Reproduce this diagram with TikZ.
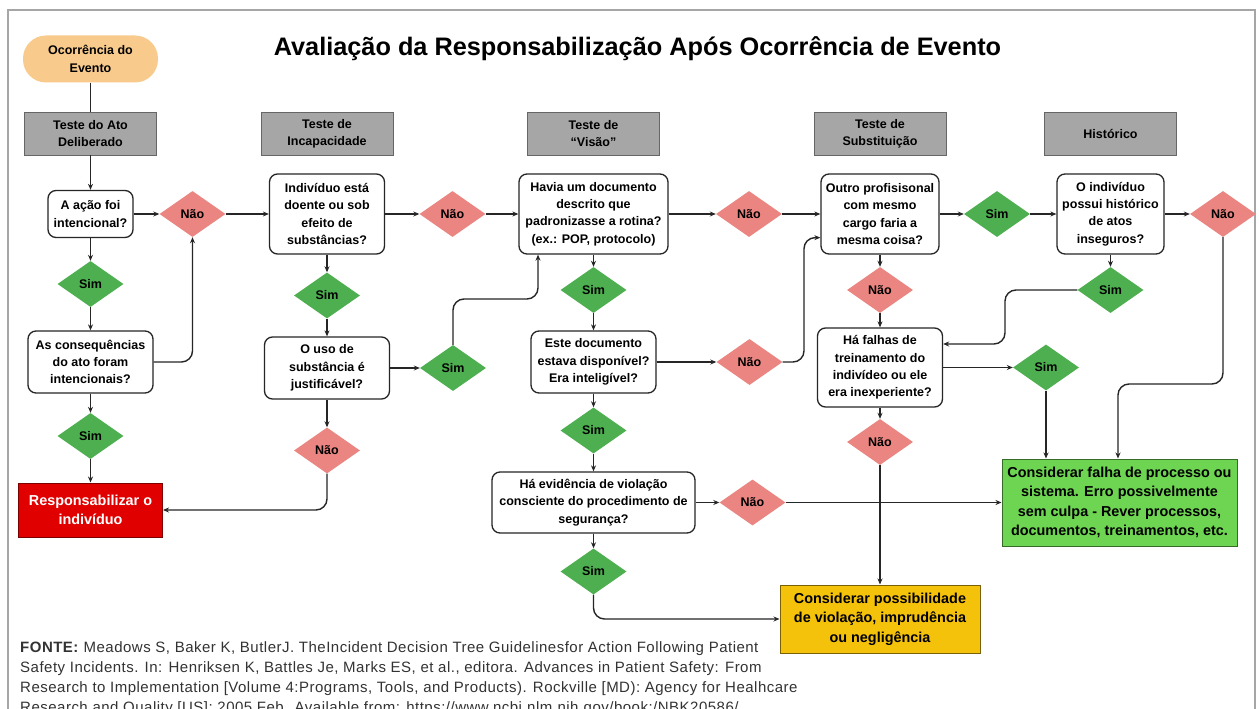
\documentclass[tikz,border=0pt]{standalone}
\usepackage{fontspec}
\setmainfont{Liberation Sans}
\usetikzlibrary{shapes.geometric, arrows.meta}

\definecolor{laranja}{HTML}{F8CB8D}
\definecolor{cinza}{HTML}{A6A6A6}
\definecolor{naocor}{HTML}{EA8581}
\definecolor{simcor}{HTML}{4DAF4F}
\definecolor{vermelho}{HTML}{E00000}
\definecolor{verde}{HTML}{6ED552}
\definecolor{amarelo}{HTML}{F5C20B}
\definecolor{linha}{HTML}{262626}

\newcommand{\caixafont}{\fontsize{12.5}{17.3}\selectfont\bfseries}
\newcommand{\grandefont}{\fontsize{14.4}{19.5}\selectfont\bfseries}
\newcommand{\fontefont}{\fontsize{15}{20}\selectfont\addfontfeature{LetterSpace=3.3}}

\begin{document}
\begin{tikzpicture}[x=1pt, y=-1pt, >={Stealth[length=6pt,width=5pt]},
	cab/.style={draw=gray!80!black, line width=0.8pt, fill=cinza, minimum width=132pt, minimum height=43pt, inner sep=0pt, align=center, font=\caixafont},
	perg/.style={draw=linha, line width=1.3pt, rounded corners=8pt, fill=white, inner sep=0pt, align=center, font=\caixafont},
	nao/.style={diamond, fill=naocor, minimum width=66pt, minimum height=46pt, inner sep=0pt, font=\caixafont},
	sim/.style={nao, fill=simcor},
	fim/.style={draw=linha, line width=1pt, inner sep=0pt, align=center, font=\grandefont},
	seta/.style={->, draw=linha, line width=1.4pt, rounded corners=11pt}]

	\useasboundingbox (0,0) rectangle (1259,709);
	\fill[white] (0,0) rectangle (1259,709);
	\draw[gray!70, line width=1.2pt] (8,709) -- (8,10) -- (1255,10) -- (1255,709);

	\node[anchor=base, font=\fontsize{25.3}{30}\selectfont\bfseries] (titulo) at (637.5,56) {Avaliação da Responsabilização Após Ocorrência de Evento};

	\node[fill=laranja, rounded corners=23pt, minimum width=135pt, minimum height=47pt, inner sep=0pt, align=center, font=\caixafont] (ev) at (90.5,59) {Ocorrência do\\Evento};

	\node[cab] (h1) at (90.5,133.5) {Teste do Ato\\Deliberado};
	\node[cab] (h2) at (327,133.5) {Teste de\\Incapacidade};
	\node[cab] (h3) at (593.5,133.5) {Teste de\\“Visão”};
	\node[cab] (h4) at (880,133.5) {Teste de\\Substituição};
	\node[cab] (h5) at (1110.5,133.5) {Histórico};

	\node[perg, minimum width=85pt, minimum height=47pt] (q1) at (90.5,214) {A ação foi\\intencional?};
	\node[nao] (n1) at (192.5,214) {Não};
	\node[perg, minimum width=115pt, minimum height=80pt] (q2) at (327,214) {Indivíduo está\\doente ou sob\\efeito de\\substâncias?};
	\node[nao] (n2) at (452.5,214) {Não};
	\node[perg, minimum width=149pt, minimum height=80pt] (q3) at (593.5,214) {Havia um documento\\descrito que\\padronizasse a rotina?\\(ex.: POP, protocolo)};
	\node[nao] (n3) at (749,214) {Não};
	\node[perg, minimum width=118pt, minimum height=80pt] (q4) at (880,214) {Outro profisisonal\\com mesmo\\cargo faria a\\mesma coisa?};
	\node[sim] (s10) at (997,214) {Sim};
	\node[perg, minimum width=107pt, minimum height=80pt] (q5) at (1110.5,214) {O indivíduo\\possui histórico\\de atos\\inseguros?};
	\node[nao] (n5) at (1223,214) {Não};

	\node[sim] (s1) at (90.5,284) {Sim};
	\node[perg, minimum width=125pt, minimum height=62pt] (q6) at (90.5,362) {As consequências\\do ato foram\\intencionais?};
	\node[sim] (s2) at (90.5,436) {Sim};
	\node[fim, fill=vermelho, draw=vermelho!55!black, text=white, minimum width=144pt, minimum height=54pt] (r) at (90.5,510) {Responsabilizar o\\indivíduo};

	\node[sim] (s3) at (327,295.5) {Sim};
	\node[perg, minimum width=125pt, minimum height=62pt] (q7) at (327,368) {O uso de\\substância é\\justificável?};
	\node[sim] (s4) at (453,368) {Sim};
	\node[nao] (n4) at (327,450.5) {Não};

	\node[sim] (s5) at (593.5,290) {Sim};
	\node[perg, minimum width=125pt, minimum height=62pt] (q8) at (593.5,362) {Este documento\\estava disponível?\\Era inteligível?};
	\node[nao] (n6) at (749.5,362) {Não};
	\node[sim] (s6) at (593.5,430.5) {Sim};
	\node[perg, minimum width=203pt, minimum height=61pt] (q9) at (593.5,502.5) {Há evidência de violação\\consciente do procedimento de\\segurança?};
	\node[nao] (n7) at (752.5,502.5) {Não};
	\node[sim] (s7) at (593.5,571.5) {Sim};

	\node[nao] (n8) at (880,290) {Não};
	\node[perg, minimum width=125pt, minimum height=79pt] (q10) at (880,367.5) {Há falhas de\\treinamento do\\indivídeo ou ele\\era inexperiente?};
	\node[nao] (n9) at (880,442) {Não};
	\node[sim] (s8) at (1110.5,290) {Sim};
	\node[sim] (s9) at (1046,367.5) {Sim};

	\node[fim, fill=verde, draw=verde!50!black, minimum width=235pt, minimum height=87pt] (gr) at (1119.5,502.5) {Considerar falha de processo ou\\sistema. Erro possivelmente\\sem culpa - Rever processos,\\documentos, treinamentos, etc.};
	\node[fim, fill=amarelo, draw=amarelo!50!black, minimum width=200pt, minimum height=68pt] (ye) at (880,619) {Considerar possibilidade\\de violação, imprudência\\ou negligência};

	\coordinate (k1) at (538,299);
	\coordinate (k2) at (804,362);
	\coordinate (k3) at (1005,290);
	\coordinate (k4) at (1118,384);

	\draw[draw=linha, line width=1.4pt] (ev) -- (h1);
	\draw[seta] (h1) -- (q1);
	\draw[seta] (q1) -- (n1);
	\draw[seta] (n1) -- (q2);
	\draw[seta] (q2) -- (n2);
	\draw[seta] (n2) -- (q3);
	\draw[seta] (q3) -- (n3);
	\draw[seta] (n3) -- (q4);
	\draw[seta] (q4) -- (s10);
	\draw[seta] (s10) -- (q5);
	\draw[seta] (q5) -- (n5);

	\draw[seta] (q1) -- (s1);
	\draw[seta] (s1) -- (q6);
	\draw[seta] (q6) -- (s2);
	\draw[seta] (s2) -- (r);
	\draw[seta] (q6.east) -| (n1.south);

	\draw[seta] (q2) -- (s3);
	\draw[seta] (s3) -- (q7);
	\draw[seta] (q7) -- (s4);
	\draw[seta] (q7) -- (n4);
	\draw[seta] (s4.north) |- (k1) -- (k1 |- q3.south);
	\draw[seta] (n4.south) |- (r.east);

	\draw[seta] (q3) -- (s5);
	\draw[seta] (s5) -- (q8);
	\draw[seta] (q8) -- (n6);
	\draw[seta] (n6.east) -- (k2) |- ([yshift=17pt]q4.south west);
	\draw[seta] (q8) -- (s6);
	\draw[seta] (s6) -- (q9);
	\draw[seta] (q9) -- (n7);
	\draw[seta] (n7) -- (gr);
	\draw[seta] (q9) -- (s7);
	\draw[seta] (s7.south) |- (ye.west);

	\draw[seta] (q4) -- (n8);
	\draw[seta] (n8) -- (q10);
	\draw[seta] (q10) -- (n9);
	\draw[seta] (n9) -- (ye);
	\draw[seta] (q5) -- (s8);
	\draw[seta] (s8.west) -- (k3) |- ([yshift=23.5pt]q10.east);
	\draw[seta] (q10) -- (s9);
	\draw[seta] (s9) -- (s9 |- gr.north);
	\draw[seta] (n5.south) |- (k4) -- (k4 |- gr.north);

	\node[anchor=north west, inner sep=0pt, align=left, text=black!80, font=\fontefont] (fonte) at (20,641) {\textbf{FONTE:} Meadows S, Baker K, ButlerJ. TheIncident Decision Tree Guidelinesfor Action Following Patient\\Safety Incidents. In: Henriksen K, Battles Je, Marks ES, et al., editora. Advances in Patient Safety: From\\Research to Implementation [Volume 4:Programs, Tools, and Products). Rockville [MD): Agency for Healhcare\\Research and Quality [US]; 2005 Feb. Available from: https://www.ncbi.nlm.nih.gov/book:/NBK20586/};
\end{tikzpicture}
\end{document}
